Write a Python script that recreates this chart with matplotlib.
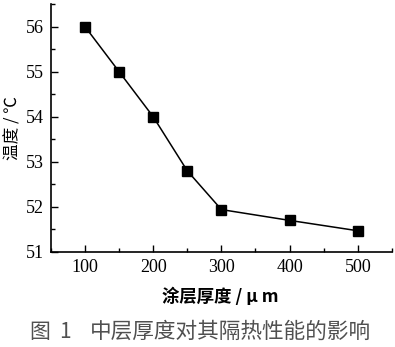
import matplotlib
matplotlib.use('Agg')
import matplotlib.pyplot as plt
from matplotlib.ticker import MultipleLocator

# coating thickness (um) vs temperature (C)
thickness = [100, 150, 200, 250, 300, 400, 500]
temperature = [56.0, 55.0, 54.0, 52.8, 51.94, 51.7, 51.47]
x_ticks = [100, 200, 300, 400, 500]
y_ticks = [51, 52, 53, 54, 55, 56]

cjk = ['Noto Sans CJK SC', 'DejaVu Sans']
serif = ['Liberation Serif', 'DejaVu Serif']

fig = plt.figure(figsize=(3.95, 3.47), dpi=100)
ax = fig.add_axes([0.129, 0.274, 0.863, 0.714])

ax.plot(thickness, temperature, color='black', linewidth=1.1,
        marker='s', markersize=6.5, markerfacecolor='black', markeredgecolor='black')

ax.set_xlim(50, 550)
ax.set_ylim(51, 56.5)
ax.set_xticks(x_ticks)
ax.set_yticks(y_ticks)
ax.xaxis.set_minor_locator(MultipleLocator(50))
ax.yaxis.set_minor_locator(MultipleLocator(0.5))
ax.tick_params(which='both', direction='in', width=1, colors='black')
ax.tick_params(which='major', length=5, labelsize=13, pad=5)
ax.tick_params(which='minor', length=3)
for lab in ax.get_xticklabels() + ax.get_yticklabels():
    lab.set_family(serif)

for side in ['top', 'right']:
    ax.spines[side].set_visible(False)
for side in ['left', 'bottom']:
    ax.spines[side].set_linewidth(1.2)

ax.set_ylabel('温度 / ℃', family=cjk, fontsize=12, va='center')
ax.yaxis.set_label_coords(-0.112, 0.5)
ax.set_xlabel('涂层厚度 / μ m', family=cjk, fontsize=12.5, fontweight='bold')
ax.xaxis.set_label_coords(0.496, -0.145)

# caption below the chart
cap_color = '#505050'
fig.text(40 / 395, 0.043, '图', family=cjk, fontsize=15, color=cap_color, ha='center', va='center')
fig.text(65 / 395, 0.043, '1', family=cjk, fontsize=15, color=cap_color, ha='center', va='center')
fig.text(230 / 395, 0.043, '中层厚度对其隔热性能的影响', family=cjk, fontsize=15.6,
         color=cap_color, ha='center', va='center')

fig.savefig('out.png', dpi=100)
